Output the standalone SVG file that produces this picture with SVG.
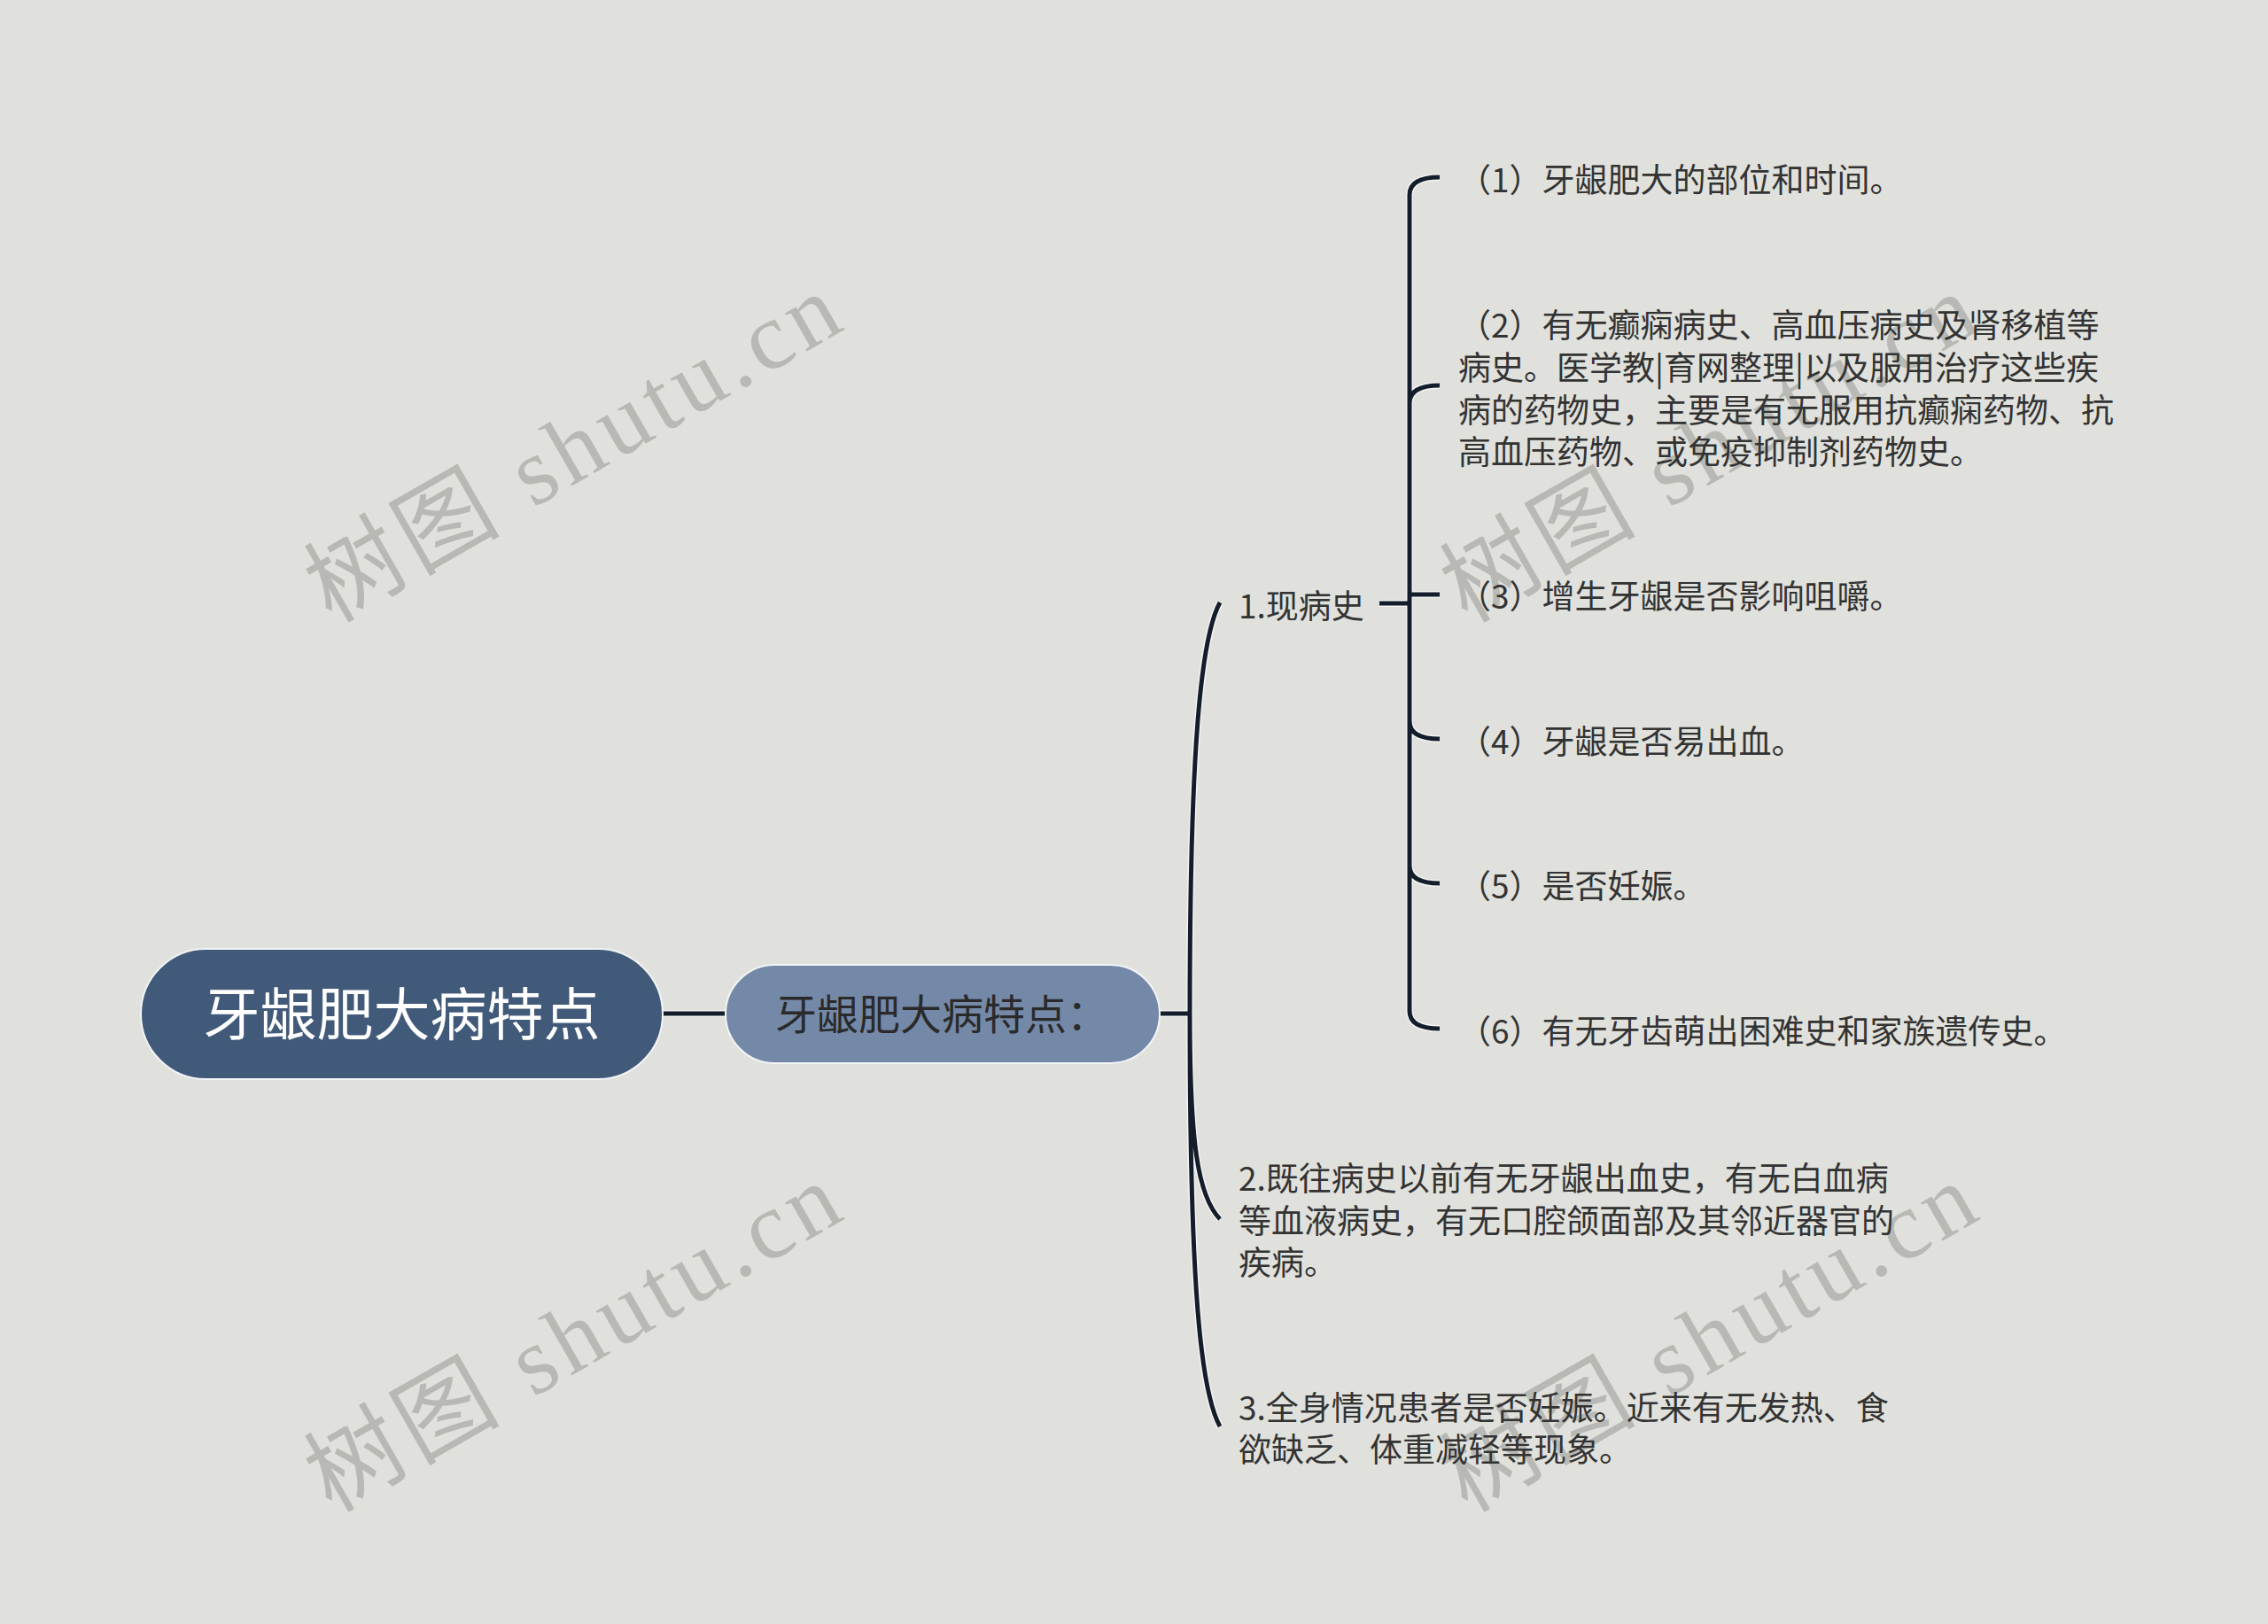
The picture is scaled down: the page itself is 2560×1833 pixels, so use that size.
<svg xmlns="http://www.w3.org/2000/svg" width="2560" height="1833" viewBox="0 0 2560 1833">
<style>
.t{font-family:"Noto Sans CJK SC","Noto Sans",sans-serif;font-size:37px;fill:#333333;dominant-baseline:central}
.wm{font-family:"Liberation Serif","Noto Sans CJK SC",serif;font-size:108px;fill:#b8b9b4}
.halo{fill:none;stroke:#f4f5f2;stroke-width:8;stroke-linecap:butt}
.ln{fill:none;stroke:#141d2b;stroke-width:5;stroke-linecap:butt}
</style>
<defs>
<path id="conn" d="M748 1144 H819 M1309 1144 H1343 M1343 1144 C1343 850 1355 720 1377 680 M1343 1144 C1343 1290 1352 1350 1377 1376 M1343 1144 C1343 1450 1355 1570 1377 1610 M1557 681 H1591 M1591 681 V220 Q1591 200 1625 200 M1591 681 V455 Q1591 435 1625 435 M1591 681 V671 H1625 M1591 681 V814 Q1591 834 1625 834 M1591 681 V977 Q1591 997 1625 997 M1591 681 V1141 Q1591 1161 1625 1161"/>
</defs>
<rect width="2560" height="1833" fill="#e0e1dc"/>
<g id="watermarks">
<text class="wm" x="374" y="704" transform="rotate(-29.8 374 704)" textLength="670" lengthAdjust="spacing">树图 shutu.cn</text>
<text class="wm" x="374" y="1708" transform="rotate(-29.8 374 1708)" textLength="670" lengthAdjust="spacing">树图 shutu.cn</text>
<text class="wm" x="1656" y="704" transform="rotate(-29.8 1656 704)" textLength="670" lengthAdjust="spacing">树图 shutu.cn</text>
<text class="wm" x="1656" y="1708" transform="rotate(-29.8 1656 1708)" textLength="670" lengthAdjust="spacing">树图 shutu.cn</text>
</g>
<g id="connectors">
<use href="#conn" class="halo"/>
<use href="#conn" class="ln"/>
</g>
<g id="root">
<rect x="159" y="1071" width="589" height="147" rx="73.5" fill="#425a79" stroke="#f2f4f6" stroke-width="2"/>
<text x="453.5" y="1140" text-anchor="middle" style="font-family:'Noto Sans CJK SC','Noto Sans',sans-serif;font-size:64px;fill:#ffffff;dominant-baseline:central">牙龈肥大病特点</text>
</g>
<g id="main">
<rect x="819" y="1089" width="490" height="111" rx="55.5" fill="#7489a8" stroke="#f2f4f6" stroke-width="2"/>
<text x="875" y="1141" style="font-family:'Noto Sans CJK SC','Noto Sans',sans-serif;font-size:47px;fill:#2a2a2a;dominant-baseline:central">牙龈肥大病特点：</text>
</g>
<g id="n1"><text class="t" x="1398" y="682">1.现病史</text></g>
<g id="n1-1"><text class="t" x="1646" y="201">（1）牙龈肥大的部位和时间。</text></g>
<g id="n1-2">
<text class="t" x="1646" y="365">（2）有无癫痫病史、高血压病史及肾移植等</text>
<text class="t" x="1646" y="413">病史。医学教|育网整理|以及服用治疗这些疾</text>
<text class="t" x="1646" y="461">病的药物史，主要是有无服用抗癫痫药物、抗</text>
<text class="t" x="1646" y="508">高血压药物、或免疫抑制剂药物史。</text>
</g>
<g id="n1-3"><text class="t" x="1646" y="671">（3）增生牙龈是否影响咀嚼。</text></g>
<g id="n1-4"><text class="t" x="1646" y="835">（4）牙龈是否易出血。</text></g>
<g id="n1-5"><text class="t" x="1646" y="998">（5）是否妊娠。</text></g>
<g id="n1-6"><text class="t" x="1646" y="1162">（6）有无牙齿萌出困难史和家族遗传史。</text></g>
<g id="n2">
<text class="t" x="1398" y="1328">2.既往病史以前有无牙龈出血史，有无白血病</text>
<text class="t" x="1398" y="1376">等血液病史，有无口腔颌面部及其邻近器官的</text>
<text class="t" x="1398" y="1423">疾病。</text>
</g>
<g id="n3">
<text class="t" x="1398" y="1587">3.全身情况患者是否妊娠。近来有无发热、食</text>
<text class="t" x="1398" y="1634">欲缺乏、体重减轻等现象。</text>
</g>
</svg>
